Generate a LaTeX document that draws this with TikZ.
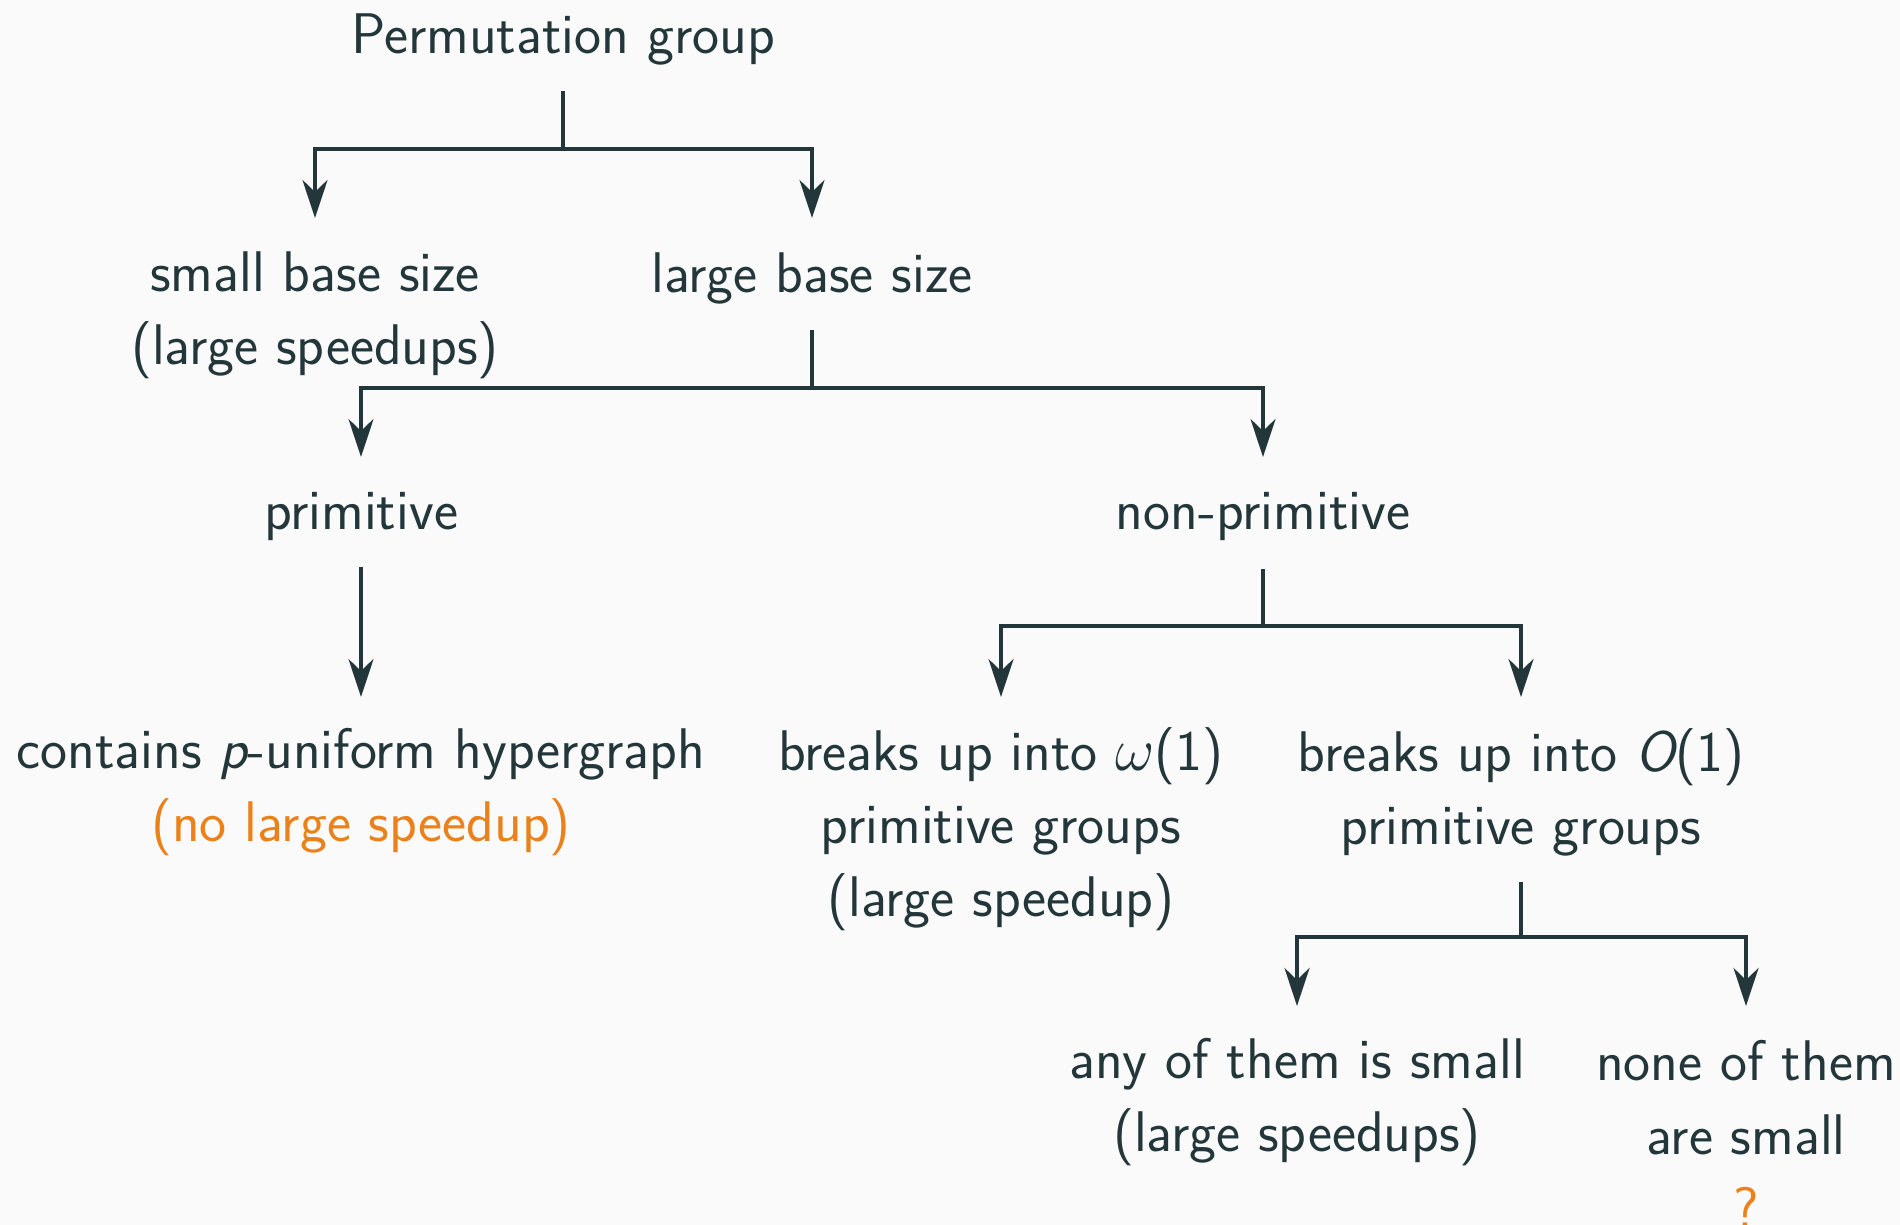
\documentclass[tikz,border=0pt]{standalone}
\usetikzlibrary{arrows.meta}
\definecolor{fgdark}{HTML}{23373B}
\definecolor{alertorange}{HTML}{EB811B}
\definecolor{pagebg}{HTML}{FAFAFA}
\begin{document}
\begin{tikzpicture}[x=0.01cm, y=-0.01cm,
  every node/.style={text=fgdark, align=center,
    font=\sffamily\fontsize{16.3}{20.8}\selectfont, inner sep=0pt},
  conn/.style={draw=fgdark, line width=1pt},
  arr/.style={conn, -{Stealth[length=0.38cm, width=0.25cm, inset=0.12cm]}},
  alert/.style={text=alertorange}]
\fill[pagebg] (0,0) rectangle (1900,1225);
\useasboundingbox (0,0) rectangle (1900,1225);

% labels
\node (perm)     at (563,39)   {Permutation group};
\node (small)    at (315,315)  {small base size\\(large speedups)};
\node (large)    at (812,278)  {large base size};
\node (prim)     at (361,517)  {primitive};
\node (nonprim)  at (1263,517) {non-primitive};
\node (contains) at (361,792)  {contains {\itshape p}-uniform hypergraph\\\textcolor{alertorange}{(no large speedup)}};
\node (brkomega) at (1001,829) {breaks up into $\omega$(1)\\primitive groups\\(large speedup)};
\node (brkO)     at (1521,792) {breaks up into {\itshape O}(1)\\primitive groups};
\node (anysmall) at (1297,1102) {any of them is small\\(large speedups)};
\node (nonesmall) at (1746,1134) {none of them\\are small\\\textcolor{alertorange}{?}};

% branches from the root
\draw[conn] (perm.center |- 0,91) -- (perm.center |- 0,149) coordinate (j1);
\draw[arr] (j1) -| (small.center |- 0,218);
\draw[arr] (j1) -| (large.center |- 0,218);

% branches from large base size
\draw[conn] (large.center |- 0,330) -- (large.center |- 0,388) coordinate (j2);
\draw[arr] (j2) -| (prim.center |- 0,457);
\draw[arr] (j2) -| (nonprim.center |- 0,457);

% primitive case
\draw[arr] (prim.center |- 0,567) -- (contains.center |- 0,697);

% branches from non-primitive
\draw[conn] (nonprim.center |- 0,569) -- (nonprim.center |- 0,626) coordinate (j3);
\draw[arr] (j3) -| (brkomega.center |- 0,697);
\draw[arr] (j3) -| (brkO.center |- 0,697);

% branches from O(1) case
\draw[conn] (brkO.center |- 0,882) -- (brkO.center |- 0,937) coordinate (j4);
\draw[arr] (j4) -| (anysmall.center |- 0,1006);
\draw[arr] (j4) -| (nonesmall.center |- 0,1006);
\end{tikzpicture}
\end{document}
